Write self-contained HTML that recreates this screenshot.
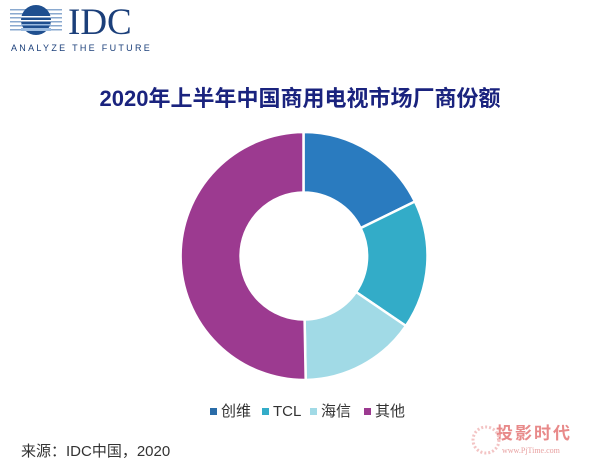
<!DOCTYPE html>
<html><head><meta charset="utf-8"><style>
body{margin:0;background:#fff;width:600px;height:467px;overflow:hidden;font-family:"Liberation Sans","Noto Sans CJK SC",sans-serif;}
</style></head><body>
<svg width="600" height="467" xmlns="http://www.w3.org/2000/svg">
<g>
<rect x="10" y="9" width="52" height="1.5" fill="#8aa9cf"/>
<rect x="10" y="13" width="52" height="1.5" fill="#8aa9cf"/>
<rect x="10" y="17" width="52" height="1.5" fill="#8aa9cf"/>
<rect x="10" y="21" width="52" height="1.5" fill="#8aa9cf"/>
<rect x="10" y="25" width="52" height="1.5" fill="#8aa9cf"/>
<rect x="10" y="29" width="52" height="1.5" fill="#8aa9cf"/>
<circle cx="36" cy="20" r="15" fill="#1f4f8f"/>
<rect x="21" y="16" width="30" height="1.5" fill="#fff"/>
<rect x="21" y="20" width="30" height="1.5" fill="#fff"/>
<rect x="21" y="24" width="30" height="1.5" fill="#9bbbe0"/>
<rect x="21" y="28" width="30" height="3" fill="#9bbbe0"/>
</g>
<text x="68" y="34" font-family="Liberation Serif,serif" font-size="37" fill="#1b3f7a">IDC</text>
<text x="11" y="51" font-size="9" letter-spacing="2.3" fill="#1b3f7a">ANALYZE THE FUTURE</text>
<text x="300" y="106" text-anchor="middle" font-size="22" font-weight="bold" fill="#1a237e">2020年上半年中国商用电视市场厂商份额</text>
<g stroke="#fff" stroke-width="2.5">
<path d="M303.5,132 A124,124 0 0 1 414.9,201.5 L360.6,228.1 A63.5,63.5 0 0 0 303.5,192.5 Z" fill="#2a7bbf"/>
<path d="M414.9,201.5 A124,124 0 0 1 405.9,325.9 L356,292 A63.5,63.5 0 0 0 360.6,228.1 Z" fill="#33acc8"/>
<path d="M405.9,325.9 A124,124 0 0 1 305.7,380 L304.6,319.5 A63.5,63.5 0 0 0 356,292 Z" fill="#a1dae6"/>
<path d="M305.7,380 A124,124 0 0 1 303.5,132 L303.5,192.5 A63.5,63.5 0 0 0 304.6,319.5 Z" fill="#9c3a90"/>
</g>
<g font-size="15" fill="#333">
<rect x="210" y="408" width="7" height="7" fill="#2a6ca8"/><text x="221" y="416">创维</text>
<rect x="262" y="408" width="7" height="7" fill="#33acc8"/><text x="273" y="416">TCL</text>
<rect x="310" y="408" width="7" height="7" fill="#a1dae6"/><text x="321" y="416">海信</text>
<rect x="364" y="408" width="7" height="7" fill="#9c3a90"/><text x="375" y="416">其他</text>
<text x="21" y="456">来源：IDC中国，2020</text>
</g>
<text x="496" y="439" font-size="17" font-weight="bold" fill="#e88a8a" letter-spacing="2">投影时代</text>
<text x="502" y="453" font-size="8" fill="#e8a0a0" font-family="Liberation Serif,serif">www.PjTime.com</text>
<circle cx="486" cy="440" r="13" fill="none" stroke="#f3c4c4" stroke-width="3" stroke-dasharray="2 2"/>
</svg>
</body></html>
